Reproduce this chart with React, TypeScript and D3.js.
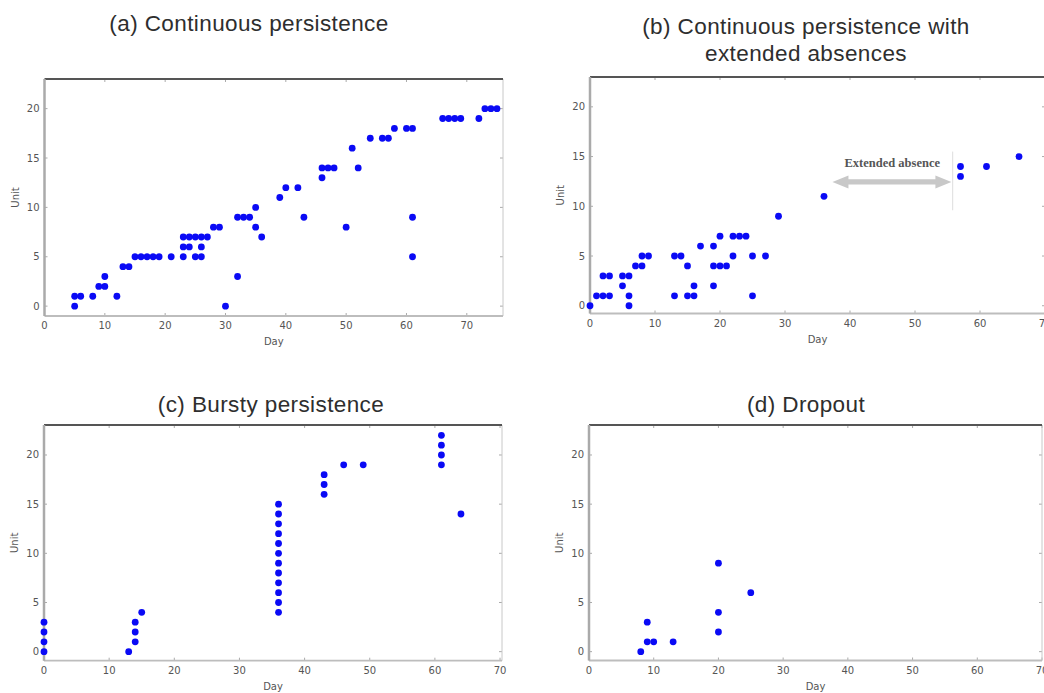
import React from "react";
import * as d3 from "d3";

// ---------- data ----------
const panelAPoints: [number, number][] = [
  [5, 0], [5, 1], [6, 1], [8, 1], [9, 2], [10, 2], [10, 3], [12, 1], [13, 4], [14, 4],
  [15, 5], [16, 5], [17, 5], [18, 5], [19, 5], [21, 5], [23, 5], [23, 6], [24, 6], [26, 6],
  [23, 7], [24, 7], [25, 7], [26, 7], [27, 7], [25, 5], [26, 5], [28, 8], [29, 8], [30, 0],
  [32, 3], [32, 9], [33, 9], [34, 9], [35, 10], [35, 8], [36, 7], [39, 11], [40, 12], [42, 12],
  [43, 9], [46, 13], [46, 14], [47, 14], [48, 14], [50, 8], [51, 16], [52, 14], [54, 17], [56, 17],
  [57, 17], [58, 18], [60, 18], [61, 18], [61, 9], [61, 5], [66, 19], [67, 19], [68, 19], [69, 19],
  [72, 19], [73, 20], [74, 20], [75, 20],
];

const panelBPoints: [number, number][] = [
  [0, 0], [1, 1], [2, 1], [3, 1], [5, 2], [6, 1], [6, 0], [2, 3], [3, 3], [5, 3], [6, 3],
  [7, 4], [8, 4], [8, 5], [9, 5], [13, 1], [13, 5], [14, 5], [15, 4], [15, 1], [16, 1], [16, 2],
  [17, 6], [19, 6], [19, 2], [19, 4], [20, 4], [21, 4], [20, 7], [22, 7], [23, 7], [24, 7],
  [22, 5], [25, 5], [25, 1], [27, 5], [29, 9], [36, 11], [57, 14], [57, 13], [61, 14], [66, 15],
];

const panelCPoints: [number, number][] = [
  [0, 0], [0, 1], [0, 2], [0, 3], [13, 0], [14, 1], [14, 2], [14, 3], [15, 4],
  [36, 4], [36, 5], [36, 6], [36, 7], [36, 8], [36, 9], [36, 10], [36, 11], [36, 12], [36, 13], [36, 14], [36, 15],
  [43, 16], [43, 17], [43, 18], [46, 19], [49, 19], [61, 19], [61, 20], [61, 21], [61, 22], [64, 14],
];

const panelDPoints: [number, number][] = [
  [8, 0], [9, 3], [9, 1], [10, 1], [13, 1], [20, 9], [20, 4], [20, 2], [25, 6],
];

const xTickValues = [0, 10, 20, 30, 40, 50, 60, 70];
const yTickValues = [0, 5, 10, 15, 20];

const titleA = ["(a) Continuous persistence"];
const titleB = ["(b) Continuous persistence with", "extended absences"];
const titleC = ["(c) Bursty persistence"];
const titleD = ["(d) Dropout"];

const absenceLabel = "Extended absence";
const absenceArrow = { x0: 37.3, x1: 55.6, y: 12.45 };
const absenceMarker = { x: 55.8, y0: 9.6, y1: 15.5 };
const absenceText = { x: 46.5, y: 14.0 };

// ---------- layout ----------
type Panel = {
  title: string[];
  titleX: number;
  titleY: number[];
  left: number;
  right: number;
  top: number;
  bottom: number;
  xMax: number;
  yMin: number;
  yMax: number;
  points: [number, number][];
  annotate?: boolean;
};

const panels: Panel[] = [
  { title: titleA, titleX: 249, titleY: [31], left: 44.5, right: 503, top: 79, bottom: 316, xMax: 76, yMin: -1, yMax: 23, points: panelAPoints },
  { title: titleB, titleX: 806, titleY: [34, 61], left: 590, right: 1045, top: 77, bottom: 313.5, xMax: 70, yMin: -0.78, yMax: 23, points: panelBPoints, annotate: true },
  { title: titleC, titleX: 271, titleY: [412], left: 44, right: 502, top: 425, bottom: 660.7, xMax: 70.3, yMin: -0.92, yMax: 23.05, points: panelCPoints },
  { title: titleD, titleX: 806, titleY: [412], left: 589, right: 1042, top: 425, bottom: 660.5, xMax: 70, yMin: -0.9, yMax: 23.05, points: panelDPoints },
];

const tickFont = "'DejaVu Sans', sans-serif";

function PanelView({ p }: { p: Panel }) {
  const x = d3.scaleLinear().domain([0, p.xMax]).range([p.left, p.right]);
  const y = d3.scaleLinear().domain([p.yMin, p.yMax]).range([p.bottom, p.top]);
  return (
    <g>
      {p.title.map((t, i) => (
        <text key={i} x={p.titleX} y={p.titleY[i]} textAnchor="middle"
          fontFamily="'Liberation Sans', Arial, sans-serif" fontSize={22.5} fill="#2e2e2e"
          letterSpacing={0.4}>{t}</text>
      ))}
      <rect x={p.left} y={p.top} width={p.right - p.left} height={p.bottom - p.top} fill="#fff" />
      {/* ticks */}
      {xTickValues.map((v) => (
        <g key={"xt" + v}>
          <line x1={x(v)} x2={x(v)} y1={p.bottom} y2={p.bottom - 3} stroke="#aaa" strokeWidth={1} />
          <line x1={x(v)} x2={x(v)} y1={p.top} y2={p.top + 3} stroke="#aaa" strokeWidth={1} />
          <text x={x(v)} y={p.bottom + 13} textAnchor="middle" fontFamily={tickFont} fontSize={10} fill="#555">{v}</text>
        </g>
      ))}
      {yTickValues.map((v) => (
        <g key={"yt" + v}>
          <line x1={p.left} x2={p.left + 3} y1={y(v)} y2={y(v)} stroke="#aaa" strokeWidth={1} />
          <line x1={p.right} x2={p.right - 3} y1={y(v)} y2={y(v)} stroke="#aaa" strokeWidth={1} />
          <text x={p.left - 5} y={y(v) + 3.5} textAnchor="end" fontFamily={tickFont} fontSize={10} fill="#555">{v}</text>
        </g>
      ))}
      <text x={(p.left + p.right) / 2} y={p.bottom + 29} textAnchor="middle" fontFamily={tickFont} fontSize={10} fill="#555">Day</text>
      <text transform={`translate(${p.left - 26},${(p.top + p.bottom) / 2}) rotate(-90)`} textAnchor="middle"
        fontFamily={tickFont} fontSize={10} fill="#555">Unit</text>
      {/* frame */}
      <line x1={p.right} x2={p.right} y1={p.top} y2={p.bottom} stroke="#c8c8c8" strokeWidth={1} />
      <line x1={p.left} x2={p.right} y1={p.bottom} y2={p.bottom} stroke="#bdbdbd" strokeWidth={1.8} />
      <line x1={p.left} x2={p.right} y1={p.top} y2={p.top} stroke="#555" strokeWidth={2} />
      <line x1={p.left} x2={p.left} y1={p.top} y2={p.bottom} stroke="#aaa" strokeWidth={2.5} />
      {/* annotation */}
      {p.annotate && (() => {
        const ax0 = x(absenceArrow.x0), ax1 = x(absenceArrow.x1), ay = y(absenceArrow.y);
        const head = 16, hw = 6.5, bw = 2.6;
        const path = d3.path();
        path.moveTo(ax0, ay);
        path.lineTo(ax0 + head, ay - hw);
        path.lineTo(ax0 + head, ay - bw);
        path.lineTo(ax1 - head, ay - bw);
        path.lineTo(ax1 - head, ay - hw);
        path.lineTo(ax1, ay);
        path.lineTo(ax1 - head, ay + hw);
        path.lineTo(ax1 - head, ay + bw);
        path.lineTo(ax0 + head, ay + bw);
        path.lineTo(ax0 + head, ay + hw);
        path.closePath();
        return (
          <g>
            <line x1={x(absenceMarker.x)} x2={x(absenceMarker.x)} y1={y(absenceMarker.y0)} y2={y(absenceMarker.y1)} stroke="#ddd" strokeWidth={1} />
            <path d={path.toString()} fill="#c8c8c8" />
            <text x={x(absenceText.x)} y={y(absenceText.y)} textAnchor="middle"
              fontFamily="'Liberation Serif', 'Times New Roman', serif" fontWeight="bold" fontSize={12.5} fill="#555">{absenceLabel}</text>
          </g>
        );
      })()}
      {/* points */}
      {p.points.map(([d, u], i) => (
        <circle key={i} cx={x(d)} cy={y(u)} r={3.4} fill="#0a0af5" />
      ))}
    </g>
  );
}

export default function App() {
  return (
    <svg width={1044} height={693} style={{ position: "absolute", left: 0, top: 0, background: "#fff" }}>
      <rect width={1044} height={693} fill="#fff" />
      {panels.map((p, i) => <PanelView key={i} p={p} />)}
    </svg>
  );
}
